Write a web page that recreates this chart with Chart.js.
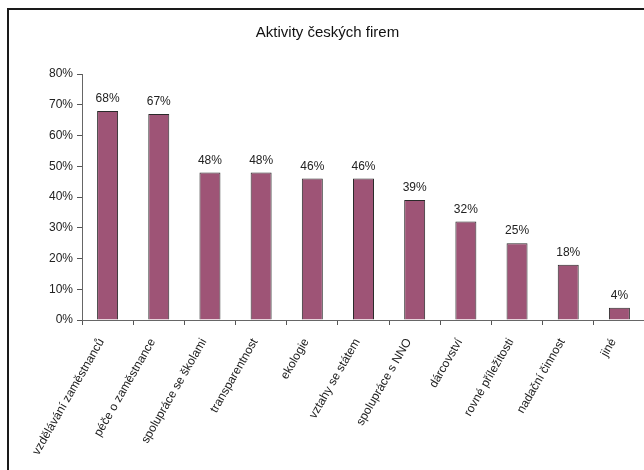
<!DOCTYPE html>
<html>
<head>
<meta charset="utf-8">
<script src="https://cdn.jsdelivr.net/npm/chart.js@4/dist/chart.umd.min.js"></script>
<style>
  html, body { margin: 0; padding: 0; background: #fff; overflow: hidden; }
  #wrap { position: absolute; left: 0; top: 0; width: 660px; height: 470px; }
  #frame { position: absolute; left: 7px; top: 8px; width: 680px; height: 480px; border: 2px solid #1a1a1a; pointer-events: none; }
</style>
</head>
<body>
<div id="wrap"><canvas id="chart" width="660" height="470"></canvas></div>
<div id="frame"></div>
<script>
const categories = [
  'vzdělávání zaměstnanců',
  'péče o zaměstnance',
  'spolupráce se školami',
  'transparentnost',
  'ekologie',
  'vztahy se státem',
  'spolupráce s NNO',
  'dárcovství',
  'rovné příležitosti',
  'nadační činnost',
  'jiné'
];
const values = [68, 67, 48, 48, 46, 46, 39, 32, 25, 18, 4];
const yTicks = [0, 10, 20, 30, 40, 50, 60, 70, 80];

const FONT = 'Liberation Sans, Arial, sans-serif';

// percent labels above the bars
const valueLabels = {
  id: 'valueLabels',
  afterDatasetsDraw(chart) {
    const ctx = chart.ctx;
    const meta = chart.getDatasetMeta(0);
    ctx.save();
    ctx.font = '12px ' + FONT;
    ctx.fillStyle = '#222';
    ctx.textAlign = 'center';
    ctx.textBaseline = 'bottom';
    meta.data.forEach((bar, i) => {
      ctx.fillText(values[i] + '%', bar.x, bar.y - 6);
    });
    ctx.restore();
  }
};

const chart = new Chart(document.getElementById('chart'), {
  type: 'bar',
  data: {
    labels: categories,
    datasets: [
      {
        data: values,
        backgroundColor: '#9e5476',
        borderColor: '#2a2a2a',
        borderWidth: 1,
        categoryPercentage: 1,
        barPercentage: 0.41
      }
    ]
  },
  options: {
    responsive: false,
    animation: false,
    layout: { padding: { left: 10, right: 15, top: 0, bottom: 0 } },
    plugins: {
      legend: { display: false },
      tooltip: { enabled: false },
      title: {
        display: true,
        text: 'Aktivity českých firem',
        color: '#111',
        font: { family: FONT, size: 15, weight: 'normal' },
        padding: { top: 24, bottom: 32 }
      }
    },
    scales: {
      x: {
        offset: true,
        grid: { display: true, drawOnChartArea: false, drawTicks: true, tickLength: 5, color: '#555', offset: true },
        border: { color: '#666', width: 1 },
        ticks: {
          autoSkip: false,
          minRotation: 60,
          maxRotation: 60,
          color: '#222',
          padding: 11,
          labelOffset: -6,
          font: { family: FONT, size: 12 }
        },
        afterFit(scale) { scale.height = 150; }
      },
      y: {
        min: 0,
        max: 80,
        afterBuildTicks(scale) { scale.ticks = yTicks.map(v => ({ value: v })); },
        grid: { display: true, drawOnChartArea: false, drawTicks: true, tickLength: 5, color: '#555' },
        border: { color: '#666', width: 1 },
        ticks: {
          color: '#222',
          padding: 4,
          font: { family: FONT, size: 12 },
          callback: (v) => v + '%'
        },
        afterFit(scale) { scale.width = 72; }
      }
    }
  },
  plugins: [valueLabels]
});
</script>
</body>
</html>
